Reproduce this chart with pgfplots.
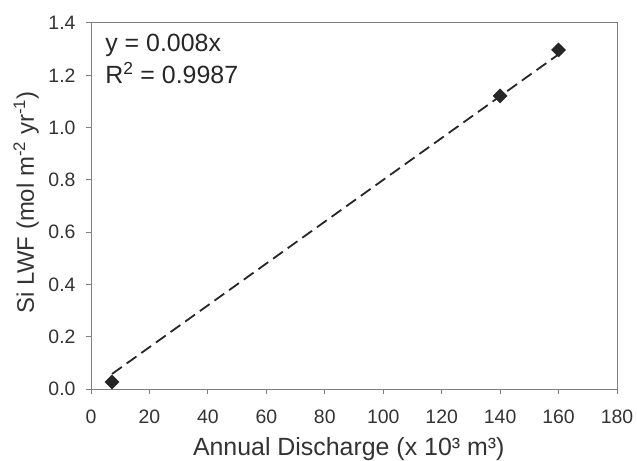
\documentclass[border=0pt]{standalone}
\usepackage{fontspec}
\setmainfont{Liberation Sans}
\usepackage{pgfplots}
\pgfplotsset{compat=1.18}

\begin{document}
\begin{tikzpicture}
\begin{axis}[
  scale only axis,
  width=526bp, height=366bp,
  xmin=0, xmax=180, ymin=0, ymax=1.4,
  xtick={0,20,...,180},
  ytick={0,0.2,...,1.4},
  yticklabel style={/pgf/number format/fixed,/pgf/number format/fixed zerofill,/pgf/number format/precision=1, xshift=-7bp},
  xticklabel style={yshift=-12bp},
  /pgf/number format/assume math mode=true,
  tick align=outside, tick pos=left,
  major tick length=5bp,
  axis line style={gray, line width=1pt},
  tick style={gray, line width=1pt},
  tick label style={font=\fontsize{19.5}{22}\selectfont, text=black!80},
  label style={font=\fontsize{25}{28}\selectfont, text=black!80},
  xlabel={Annual Discharge (x 10³ m³)},
  ylabel={Si LWF (mol m\textsuperscript{-2} yr\textsuperscript{-1})},
  xlabel style={at={([yshift=-66bp]rel axis cs:0.49,0)}, anchor=base},
  ylabel style={at={([xshift=-57bp]rel axis cs:0,0.51)}, anchor=base, font=\fontsize{24}{27}\selectfont},
  clip=false,
]
\coordinate (bl) at (rel axis cs:0,0);
\addplot[black!85, line width=1.8pt, dash pattern=on 12bp off 6bp] coordinates
  {(7.2,0.0576) (160,1.28)};
\addplot[only marks, mark=square*, mark options={rotate=45}, mark size=5bp, black!85] coordinates
  {(7.2,0.027) (140,1.121) (160,1.297)};
\node[anchor=base west, font=\fontsize{25}{28}\selectfont, text=black!85, inner sep=0pt]
  at (rel axis cs:0.027,0.921) {y = 0.008x};
\node[anchor=base west, font=\fontsize{25}{28}\selectfont, text=black!85, inner sep=0pt]
  at (rel axis cs:0.027,0.836) {R\textsuperscript{2} = 0.9987};
\end{axis}
\pgfresetboundingbox
\path[use as bounding box] (bl) ++(-91bp,-72bp) rectangle ++(637bp,461bp);
\end{tikzpicture}
\end{document}
